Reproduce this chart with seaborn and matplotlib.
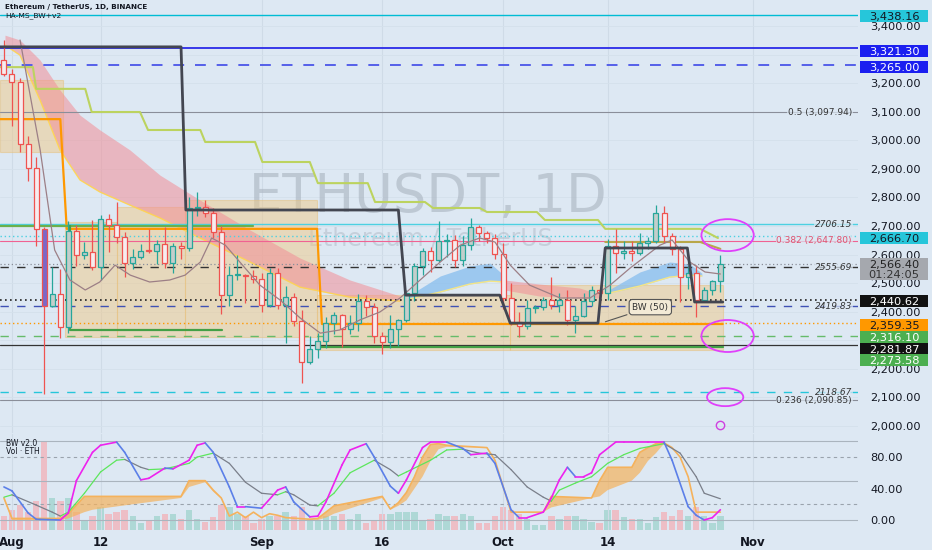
import numpy as np
import pandas as pd
import matplotlib
matplotlib.use("Agg")
import matplotlib.pyplot as plt
import matplotlib.transforms as mtrans
from matplotlib.patches import Ellipse, Rectangle
import seaborn as sns

sns.set_theme(style="white")
plt.rcParams['font.family'] = ['DejaVu Sans']

# ---------------- data ----------------
dates = pd.date_range("2024-07-31", periods=90, freq="D")
opens = [3280,3232,3203,2987,2904,2689,2419,2461,2345,2683,2598,2610,2555,2723,2703,2661,2570,2592,2614,2612,
         2637,2572,2631,2622,2763,2768,2746,2680,2458,2528,2530,2525,2513,2425,2537,2422,2450,2367,2223,2271,
         2297,2360,2389,2340,2361,2439,2418,2316,2295,2340,2370,2466,2561,2613,2581,2646,2652,2580,2633,2695,
         2675,2658,2602,2447,2364,2350,2414,2416,2440,2422,2440,2370,2385,2438,2476,2467,2629,2607,2612,2605,
         2642,2646,2746,2666,2620,2523,2535,2441,2476,2507]
highs = [3350,3249,3218,3015,2940,2698,2555,2551,2718,2705,2644,2720,2740,2743,2783,2680,2620,2636,2688,2650,
         2696,2640,2645,2800,2820,2792,2762,2700,2560,2600,2531,2546,2537,2553,2552,2490,2464,2406,2315,2327,
         2380,2400,2391,2390,2463,2457,2430,2330,2390,2375,2475,2570,2622,2628,2717,2673,2670,2665,2728,2703,
         2682,2672,2640,2500,2400,2440,2425,2450,2520,2466,2475,2420,2465,2490,2480,2655,2690,2646,2648,2675,
         2660,2773,2769,2675,2630,2560,2565,2488,2510,2600]
lows = [3225,3050,2960,2858,2630,2111,2415,2308,2325,2560,2583,2545,2510,2610,2640,2520,2550,2585,2605,2567,
        2554,2536,2584,2611,2736,2733,2658,2392,2420,2510,2430,2500,2400,2418,2409,2290,2350,2150,2217,2237,
        2272,2323,2278,2322,2332,2386,2291,2253,2273,2279,2365,2437,2527,2540,2575,2592,2555,2560,2615,2647,
        2640,2585,2410,2352,2310,2339,2397,2407,2410,2400,2355,2325,2380,2420,2430,2440,2535,2584,2577,2600,
        2620,2640,2642,2600,2435,2480,2382,2433,2460,2470]
closes = [3232,3203,2987,2904,2689,2419,2461,2345,2683,2598,2610,2555,2723,2703,2661,2570,2592,2614,2612,2637,
          2572,2631,2622,2763,2768,2746,2680,2458,2528,2530,2525,2513,2425,2537,2422,2450,2367,2223,2271,2297,
          2360,2389,2340,2361,2439,2418,2316,2295,2340,2370,2466,2561,2613,2581,2646,2652,2580,2633,2695,2675,
          2658,2602,2447,2364,2350,2414,2416,2440,2422,2440,2370,2385,2438,2476,2467,2629,2607,2612,2605,2642,
          2646,2746,2666,2620,2523,2535,2441,2476,2507,2566]
volumes_k = [300,450,550,400,650,1950,700,650,700,400,200,300,500,350,400,450,300,150,200,300,
             350,350,250,450,250,180,280,550,500,350,300,150,250,300,300,400,300,500,250,200,
             300,300,350,250,350,150,200,350,350,400,400,400,200,250,350,300,300,350,300,150,
             150,300,500,450,350,250,100,120,300,250,300,300,250,180,150,450,450,280,250,250,
             150,280,400,300,450,300,500,300,150,300]

# price levels
level_values = [3438.16, 3321.30, 3265.00, 3097.94, 2706.15, 2666.70, 2647.80, 2566.40, 2555.69,
                2440.62, 2419.83, 2359.35, 2316.10, 2281.87, 2118.67, 2090.85]

# indicator step lines (day index from Aug 1, price)
dark_x = [-1.5, 21.0, 21.6, 48.0, 48.9, 60.6, 61.9, 72.8, 73.7, 83.9, 84.8, 88.3]
dark_y = [3327, 3327, 2756, 2756, 2458, 2458, 2360, 2360, 2623, 2623, 2434, 2434]
lime_x = [-1.5, 2.6, 3.0, 9.1, 9.9, 15.9, 16.9, 23.4, 24.0, 30.2, 31.1, 37.0, 38.0, 44.2, 45.1, 51.3,
          52.3, 58.1, 59.0, 65.2, 66.2, 72.8, 73.7, 85.5, 87.7]
lime_y = [3256, 3256, 3180, 3180, 3099, 3099, 3036, 3036, 2994, 2994, 2924, 2924, 2850, 2850, 2784, 2784,
          2763, 2763, 2749, 2749, 2721, 2721, 2690, 2690, 2658]
orange_x = [-1.5, 6.0, 6.8, 37.9, 38.5, 88.3]
orange_y = [3074, 3074, 2690, 2690, 2357, 2357]
green_x = [7.2, 7.2, 26.1]
green_y = [2700, 2336, 2336]
green0_x = [-1.5, 30.0]
green0_y = [2700, 2700]
green2_x = [38.0, 88.3]
green2_y = [2276, 2276]
olive_x = [73.7, 85.5, 88.0]
olive_y = [2644, 2644, 2620]

# zones (start day, end day, low, high)
zone_x0 = [-1.5, 6.6, 13.0, 21.5, 37.9, 61.9]
zone_x1 = [6.3, 13.0, 21.5, 37.9, 61.9, 88.3]
zone_lo = [2959, 2311, 2311, 2311, 2266, 2266]
zone_hi = [3211, 2714, 2766, 2791, 2458, 2493]

# EMA clouds
pink_x = [-0.87, 0.99, 3.48, 5.96, 8.45, 10.93, 14.66, 18.39, 23.35, 29.57, 35.78, 41.99, 48.2]
pink_up = [3368, 3351, 3281, 3176, 3088, 3036, 2966, 2878, 2791, 2686, 2588, 2511, 2455]
pink_lo = [3333, 3298, 3141, 2966, 2861, 2819, 2773, 2728, 2658, 2574, 2486, 2451, 2437]
pink2_x = [61.2, 65.5, 70.5, 72.9]
pink2_up = [2511, 2497, 2483, 2462]
pink2_lo = [2476, 2455, 2448, 2448]
blue_x = [48.8, 53.2, 56.9, 59.4, 61.2]
blue_up = [2448, 2525, 2560, 2570, 2525]
blue_lo = [2441, 2469, 2497, 2507, 2504]
blue2_x = [73.7, 78.0, 81.7, 84.2, 85.7]
blue2_up = [2469, 2539, 2574, 2567, 2535]
blue2_lo = [2462, 2490, 2521, 2528, 2525]

sma_x = [1.0, 3.5, 5.3, 7.2, 9.1, 10.9, 12.8, 14.7, 17.1, 19.6, 21.5, 23.4, 24.8, 26.5, 28.3, 30.8, 33.3,
         35.8, 38.3, 40.7, 43.2, 45.7, 48.2, 50.7, 53.2, 55.7, 58.1, 60.0, 61.9, 64.3, 68.1, 71.8, 74.3,
         76.8, 80.5, 82.0, 84.2, 86.1, 88.0]
sma_y = [3351, 2966, 2616, 2511, 2476, 2504, 2563, 2528, 2504, 2511, 2528, 2574, 2658, 2633, 2574, 2493,
         2441, 2378, 2325, 2336, 2371, 2399, 2448, 2511, 2574, 2633, 2658, 2644, 2563, 2493, 2448, 2448,
         2493, 2553, 2633, 2651, 2574, 2539, 2532]

# oscillator
fast_d = [-1, 0, 2, 3, 6, 7, 8, 10, 11, 13, 14, 16, 17, 19, 20, 22, 23, 24, 25, 27, 28, 29, 31, 33, 34, 35,
          37, 38, 39, 41, 42, 44, 45, 47, 48, 49, 51, 52, 54, 56, 57, 59, 60, 62, 63, 64, 66, 67, 68, 69, 70,
          71, 72, 73, 75, 76, 79, 81, 82, 84, 85, 86, 87, 88]
fast_v = [42, 37, 9, 1, 0, 9, 50, 86, 95, 99, 86, 51, 53, 66, 65, 76, 95, 98, 86, 42, 17, 17, 15, 38, 42, 23,
          4, 5, 23, 70, 89, 97, 80, 43, 34, 51, 92, 99, 99, 91, 83, 85, 72, 13, 3, 3, 10, 28, 51, 67, 55,
          55, 60, 83, 99, 99, 99, 99, 76, 17, 6, 0, 3, 13]
slow_d = [-1, 0, 3, 5, 6, 7, 9, 11, 13, 14, 16, 17, 19, 22, 23, 25, 27, 29, 31, 33, 34, 35, 37, 38, 40, 42,
          45, 47, 48, 49, 52, 54, 56, 58, 60, 62, 64, 66, 67, 68, 70, 72, 74, 76, 78, 81, 83, 85, 86, 88]
slow_v = [29, 32, 19, 10, 5, 10, 34, 61, 76, 77, 67, 64, 65, 72, 80, 85, 72, 48, 34, 32, 36, 32, 19, 18, 34,
          60, 76, 64, 56, 61, 76, 89, 90, 85, 83, 64, 42, 29, 24, 38, 47, 55, 72, 83, 91, 97, 85, 55, 34, 27]
band_d = [-1, 0, 6, 7, 9, 10, 15, 21, 22, 24, 25, 26, 27, 28, 29, 30, 31, 32, 33, 34, 37, 38, 39, 40, 46,
          47, 48, 49, 50, 51, 52, 53, 54, 59, 60, 62, 66, 67, 72, 73, 74, 77, 78, 79, 80, 81, 82, 83, 84,
          85, 88]
band_up = [28, 2, 2, 8, 30, 30, 30, 30, 50, 50, 38, 28, 5, 10, 3, 10, 3, 8, 6, 3, 1, 2, 10, 18, 30, 14, 22,
           35, 55, 80, 96, 97, 95, 92, 76, 10, 10, 30, 28, 50, 67, 67, 86, 92, 97, 98, 92, 80, 55, 10, 10]
band_lo = [26, 0, 0, 2, 10, 13, 20, 28, 42, 48, 36, 27, 5, 10, 3, 10, 3, 8, 6, 3, 1, 0, 3, 8, 28, 13, 18,
           25, 40, 55, 75, 90, 93, 92, 76, 10, 10, 16, 28, 30, 38, 50, 60, 75, 85, 97, 92, 80, 55, 10, 10]

tick_days = [0, 11, 31, 46, 61, 74, 92]
tick_labels = ["Aug", "12", "Sep", "16", "Oct", "14", "Nov"]
price_ticks = [2000, 2100, 2200, 2400, 2500, 2600, 2700, 2800, 2900, 3000, 3100, 3200, 3400]

# ---------------- figure ----------------
BG = "#dde8f3"
W, H = 932, 550
fig = plt.figure(figsize=(W / 100, H / 100), dpi=100, facecolor=BG)
axw = 858 / W
ax = fig.add_axes([0, 1 - 433 / H, axw, 433 / H])
axv = fig.add_axes([0, 20 / H, axw, 96 / H])
ax2 = fig.add_axes([0, 20 / H, axw, 96 / H])
for a in (ax, axv, ax2):
    a.set_facecolor(BG)
    for s in a.spines.values():
        s.set_visible(False)
ax2.patch.set_visible(False)
axv.set_zorder(1)
ax2.set_zorder(2)

XL = (-1.49, 105.1)
ax.set_xlim(*XL)
ax.set_ylim(1975.5, 3491)
ax2.set_xlim(*XL)
ax2.set_ylim(-12.7, 109.3)
axv.set_xlim(*XL)
axv.set_ylim(0, 2.12e6)
axv.set_xticks([])
axv.set_yticks([])

day = np.array([(d - pd.Timestamp("2024-08-01")).days for d in dates])
o = np.array(opens, float); h = np.array(highs, float)
l = np.array(lows, float); c = np.array(closes, float)
up = c >= o

# grid
for td in tick_days:
    ax.axvline(td, color="#cfdbe7", lw=0.8, zorder=0)
    ax2.axvline(td, color="#cfdbe7", lw=0.8, zorder=0)
for p in range(2000, 3500, 100):
    ax.axhline(p, color="#d4e0eb", lw=0.6, zorder=0)

# watermark
ax.text(428 / 858, 1 - 197 / 433, "ETHUSDT, 1D", transform=ax.transAxes, ha="center", va="center",
        fontsize=38, color="#a9b3bf", alpha=0.6, zorder=1)
ax.text(430 / 858, 1 - 238 / 433, "Ethereum / TetherUS", transform=ax.transAxes, ha="center",
        va="center", fontsize=17, color="#aeb8c4", alpha=0.5, zorder=1)

# zones
for x0, x1, lo, hi in zip(zone_x0, zone_x1, zone_lo, zone_hi):
    ax.add_patch(Rectangle((x0, lo), x1 - x0, hi - lo, fc="#f0c987", ec="#e6c07a", lw=0.8,
                           alpha=0.5, zorder=1.2))

# clouds
ax.fill_between(pink_x, pink_lo, pink_up, color="#f28e96", alpha=0.55, lw=0, zorder=1.5)
ax.fill_between(pink2_x, pink2_lo, pink2_up, color="#f28e96", alpha=0.55, lw=0, zorder=1.5)
ax.fill_between(blue_x, blue_lo, blue_up, color="#8cc0ee", alpha=0.8, lw=0, zorder=1.5)
ax.fill_between(blue2_x, blue2_lo, blue2_up, color="#8cc0ee", alpha=0.8, lw=0, zorder=1.5)
ax.plot(pink_x, pink_lo, color="#ffd54f", lw=1.0, alpha=0.9, zorder=1.6)
ax.plot(blue_x, blue_lo, color="#ffe97a", lw=1.0, alpha=0.9, zorder=1.6)
ax.plot(blue2_x, blue2_lo, color="#ffe97a", lw=1.0, alpha=0.9, zorder=1.6)

# horizontal levels
level_styles = [
    ("#00bcd4", "-", 1.0), ("#2a2ae8", "-", 1.3), ("#4a55e8", (0, (6, 6)), 1.3), ("#8a8e99", "-", 0.8),
    ("#4dd0e1", "-", 1.0), ("#4dd0e1", (0, (1, 2)), 1.0), ("#f06292", "-", 0.8), ("#8a8e99", (0, (1, 2)), 0.9),
    ("#333333", (0, (6, 6)), 1.0), ("#222222", (0, (1, 2)), 1.2), ("#3f51b5", (0, (6, 6)), 1.0),
    ("#ff9800", (0, (1, 2)), 1.0), ("#66bb6a", (0, (6, 6)), 1.0), ("#333333", "-", 0.9),
    ("#26c6da", (0, (6, 6)), 1.0), ("#8a8e99", "-", 0.8)]
for v, (col, ls, lw) in zip(level_values, level_styles):
    ax.axhline(v, color=col, ls=ls, lw=lw, zorder=2)

# step lines
ax.plot(lime_x, lime_y, color="#bcd35f", lw=1.5, zorder=3)
ax.plot(olive_x, olive_y, color="#b8a74a", lw=1.5, zorder=3)
ax.plot(orange_x, orange_y, color="#ff9800", lw=1.6, zorder=3)
ax.plot(green0_x, green0_y, color="#6ab04c", lw=1.6, zorder=3)
ax.plot(green_x, green_y, color="#43a047", lw=1.6, zorder=3)
ax.plot(green2_x, green2_y, color="#43a047", lw=1.6, zorder=3)

# candles
wick_col = np.where(up, "#26a69a", "#ef5350")
ax.vlines(day, l, h, colors=wick_col, lw=0.9, zorder=4)
face = np.where(up, "#c3cecb", "#f6ecee").astype(object)
face[list(day).index(4)] = "#7b68c8"
ax.bar(day, np.maximum(np.abs(c - o), 3), bottom=np.minimum(o, c), width=0.62, color=face,
       edgecolor=wick_col, linewidth=0.9, zorder=4.5)

# SMA thin line
sns.lineplot(x=sma_x, y=sma_y, ax=ax, color="#9c7f86", lw=0.9, zorder=4.8, sort=False)
ax.plot(dark_x, dark_y, color="#434651", lw=2.0, zorder=5)

# line labels on the right
tr = mtrans.blended_transform_factory(ax.transAxes, ax.transData)
labs = [(3097.94, "0.5 (3,097.94)", "#333333", "normal"), (2706.15, "2706.15", "#333333", "italic"),
        (2647.80, "0.382 (2,647.80)", "#e0506e", "normal"), (2555.69, "2555.69", "#333333", "italic"),
        (2419.83, "2419.83", "#333333", "italic"), (2118.67, "2118.67", "#333333", "italic"),
        (2090.85, "0.236 (2,090.85)", "#333333", "normal")]
for v, t, col, st in labs:
    ax.text(0.993, v, t, transform=tr, ha="right", va="center", fontsize=6.5, color=col, style=st,
            zorder=6, bbox=dict(fc=BG, ec="none", pad=0.5, alpha=0.7))

# ellipses
for cx, cy, ew, eh in [(88.9, 2668, 6.5, 112), (88.9, 2315, 6.5, 112), (88.6, 2101, 4.5, 63)]:
    ax.add_patch(Ellipse((cx, cy), ew, eh, fc="none", ec="#e040fb", lw=1.3, zorder=7))
ax.plot([88.0], [2003], marker="o", ms=6, mfc="none", mec="#d040e0", mew=1.0, zorder=7)

# BW label
ax.annotate("BW (50)", xy=(73.4, 2362), xytext=(79.3, 2416), fontsize=6.5, color="#333333",
            ha="center", va="center", zorder=7,
            bbox=dict(boxstyle="round,pad=0.35", fc="#f3ead6", ec="#555555", lw=0.8),
            arrowprops=dict(arrowstyle="-", color="#555555", lw=0.8))

# right axis ticks
ax.yaxis.tick_right()
ax.set_yticks(price_ticks)
ax.set_yticklabels([f"{v:,.2f}" for v in price_ticks])
ax.tick_params(axis="y", length=0, pad=9, labelsize=8.2, labelcolor="#131722")
ax.set_xticks([])

# price tags (rectangles in pixel space to the right of the plot)
ident = mtrans.IdentityTransform()
tags = [(3438.16, "#26c6da", "#131722", 1), (3321.30, "#1b1ff0", "white", 2.5),
        (3265.00, "#1b1ff0", "white", 2.5), (2666.70, "#26c6da", "#131722", 2.5),
        (2440.62, "#111111", "white", 1), (2359.35, "#ff9800", "#131722", 1.5),
        (2316.10, "#4caf50", "white", 1.5), (2281.87, "#111111", "white", 3.5),
        (2273.58, "#4caf50", "white", 12)]
x_tag = W * axw + 2
for v, bg, fg, dy in tags:
    yc = ax.transData.transform((0, v))[1] - dy
    fig.patches.append(Rectangle((x_tag, yc - 6), 68, 12, transform=ident, fc=bg, ec="none",
                                 figure=fig, zorder=9))
    fig.text(x_tag + 34, yc, f"{v:,.2f}", transform=ident, ha="center", va="center_baseline",
             fontsize=8.2, color=fg, zorder=10)
yc = ax.transData.transform((0, 2566.40))[1] - 5
fig.patches.append(Rectangle((x_tag, yc - 11), 68, 22, transform=ident, fc="#a5a8ae", ec="none",
                             figure=fig, zorder=9))
fig.text(x_tag + 34, yc + 5, "2,566.40", transform=ident, ha="center", va="center_baseline",
         fontsize=8.2, color="#222222", zorder=10)
fig.text(x_tag + 34, yc - 5, "01:24:05", transform=ident, ha="center", va="center_baseline",
         fontsize=8.2, color="#333333", zorder=10)

# header texts
fig.text(5 / W, 1 - 7 / H, "Ethereum / TetherUS, 1D, BINANCE", fontsize=5.2, weight="bold",
         color="#131722", va="center", ha="left")
fig.text(5 / W, 1 - 16 / H, "HA-MS_BW+v2", fontsize=5.4, color="#131722", va="center", ha="left")

# ---------------- lower panel ----------------
vol = np.array(volumes_k) * 1000.0
axv.bar(day, vol, width=0.8, color=np.where(up, "#9fd3cd", "#f3b1b8"), alpha=0.75, lw=0)

for v in (100, 50, 0):
    ax2.axhline(v, color="#aab4be", lw=0.8, zorder=1)
for v in (80, 20):
    ax2.axhline(v, color="#9aa3ad", lw=0.8, ls=(0, (3, 3)), zorder=1)

band_poly_x = list(band_d) + list(band_d)[::-1]
band_poly_y = list(band_up) + list(band_lo)[::-1]
ax2.fill(band_poly_x, band_poly_y, color="#f5b25c", alpha=0.7, lw=0, zorder=2)
ax2.plot(band_d, band_up, color="#f5b25c", lw=1.2, zorder=2)

sd = np.array(slow_d); sv = np.array(slow_v)
for i in range(len(sd) - 1):
    col = "#5ce65c" if sv[i + 1] >= sv[i] else "#7a7f8a"
    ax2.plot(sd[i:i + 2], sv[i:i + 2], color=col, lw=0.9, zorder=3)
fd = np.array(fast_d); fv = np.array(fast_v)
for i in range(len(fd) - 1):
    col = "#ee22ee" if fv[i + 1] >= fv[i] else "#5b7fe8"
    seg = pd.DataFrame({"d": fd[i:i + 2], "v": fv[i:i + 2]})
    sns.lineplot(data=seg, x="d", y="v", ax=ax2, color=col, lw=1.2, zorder=4)

ax2.set_xlabel("")
ax2.set_ylabel("")
ax2.yaxis.tick_right()
ax2.set_yticks([0, 40, 80])
ax2.set_yticklabels(["0.00", "40.00", "80.00"])
ax2.tick_params(axis="y", length=0, pad=9, labelsize=8.2, labelcolor="#131722")
ax2.set_xticks(tick_days)
ax2.set_xticklabels(tick_labels)
ax2.tick_params(axis="x", length=0, pad=4, labelsize=8.5, labelcolor="#131722")
for lab in ax2.get_xticklabels():
    lab.set_fontweight("bold")

ax2.text(6 / 858, 1 - 5 / 96, "BW v2.0", transform=ax2.transAxes, fontsize=5.5, color="#131722",
         va="top", ha="left")
ax2.text(6 / 858, 1 - 13 / 96, "Vol · ETH", transform=ax2.transAxes, fontsize=5.5, color="#131722",
         va="top", ha="left")
ax.set_xlabel(""); ax.set_ylabel("")

fig.savefig("out.png", dpi=100, facecolor=BG)
